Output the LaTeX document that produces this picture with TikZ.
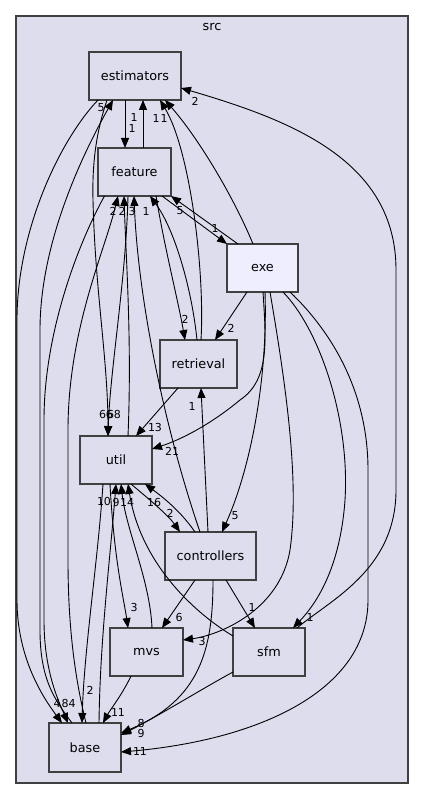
\documentclass[tikz,border=0pt]{standalone}
\usepackage{fontspec}
\setmainfont{DejaVu Sans}
\usetikzlibrary{arrows.meta}
\definecolor{clfill}{HTML}{DDDDEE}
\definecolor{exefill}{HTML}{EEEEFF}
\definecolor{bord}{HTML}{404040}
\tikzset{
  dirbox/.style={draw=bord, fill=clfill, line width=1.3pt, minimum width=#1, minimum height=48pt, inner sep=0pt, outer sep=0pt, font=\fontsize{12.8}{14}\selectfont},
  dep/.style={draw=black, line width=0.9pt, -{Triangle[length=10pt,width=8pt]}},
  lbl/.style={font=\fontsize{11}{12}\selectfont, inner sep=0pt}
}
\begin{document}
\begin{tikzpicture}[x=1pt,y=-1pt]
\useasboundingbox (0,0) rectangle (424,799);
\node[draw=bord, fill=clfill, line width=1.3pt, minimum width=392pt, minimum height=767pt, inner sep=0pt, outer sep=0pt] (src) at (212,399.5) {};
\node[font=\fontsize{12.8}{14}\selectfont, inner sep=0pt] (srclabel) at (212,27) {src};

\node[dirbox=92pt] (estimators) at (135,76) {estimators};
\node[dirbox=73pt] (feature) at (134.5,172) {feature};
\node[dirbox=71pt, fill=exefill] (exe) at (262.5,268) {exe};
\node[dirbox=77pt] (retrieval) at (198.5,364) {retrieval};
\node[dirbox=72pt] (util) at (116,460) {util};
\node[dirbox=91pt] (controllers) at (210.5,556) {controllers};
\node[dirbox=73pt] (mvs) at (146.5,652) {mvs};
\node[dirbox=72pt] (sfm) at (269,652) {sfm};
\node[dirbox=72pt, minimum height=49pt] (base) at (85,747.5) {base};

% estimators <-> feature
\draw[dep] ([xshift=-10pt]estimators.south) -- ([xshift=-9.5pt]feature.north);
\draw[dep] ([xshift=8.5pt]feature.north) -- ([xshift=8pt]estimators.south);
% estimators -> base
\draw[dep] ([xshift=-37pt]estimators.south) .. controls (60,140) and (17,230) .. (17,320) -- (17,600) .. controls (17,660) and (45,700) .. ([xshift=-23pt]base.north);
% base -> estimators
\draw[dep] ([xshift=-13pt]base.north) .. controls (55,700) and (40,680) .. (40,630) -- (40,330) .. controls (40,240) and (85,150) .. ([xshift=-22pt]estimators.south);
% estimators -> util
\draw[dep] ([xshift=-28pt]estimators.south) .. controls (97,130) and (92,160) .. (93,200) .. controls (95,290) and (108,360) .. ([xshift=-8pt]util.north);
% feature -> util
\draw[dep] ([xshift=-6.5pt]feature.south) .. controls (126,280) and (110,370) .. ([xshift=-8pt]util.north);
% util -> feature
\draw[dep] ([xshift=12pt]util.north) .. controls (132,340) and (126,260) .. ([xshift=-10.5pt]feature.south);
% base -> feature
\draw[dep] ([xshift=1pt]base.north) .. controls (78,690) and (68,640) .. (68,560) -- (68,430) .. controls (68,330) and (105,250) .. ([xshift=-16.5pt]feature.south);
% feature -> base
\draw[dep] ([xshift=-30pt]feature.south) .. controls (80,240) and (44,330) .. (44,420) -- (44,620) .. controls (44,670) and (58,700) .. ([xshift=-17pt]base.north);
% util -> base
\draw[dep] ([xshift=-13pt]util.south) .. controls (98,560) and (84,650) .. ([xshift=-3pt]base.north);
% base -> util
\draw[dep] ([xshift=14pt]base.north) .. controls (100,640) and (110,560) .. (util.south);
% mvs -> util
\draw[dep] ([xshift=5.5pt]mvs.north) .. controls (150,580) and (126,530) .. ([xshift=5pt]util.south);
% sfm -> util
\draw[dep] ([yshift=16pt]sfm.west) .. controls (190,610) and (140,560) .. ([xshift=12pt]util.south);
% controllers <-> util
\draw[dep] ([xshift=-15.5pt]controllers.north) .. controls (180,510) and (160,495) .. ([xshift=29pt]util.south);
\draw[dep] ([xshift=15pt]util.south) .. controls (150,500) and (168,515) .. ([xshift=-30.5pt]controllers.north);
% util -> mvs
\draw[dep] ([xshift=-6pt]util.south) .. controls (114,560) and (124,600) .. ([xshift=-18.5pt]mvs.north);
% mvs -> base
\draw[dep] ([xshift=-15.5pt]mvs.south) .. controls (122,695) and (110,710) .. ([xshift=18pt]base.north);
% controllers -> mvs, sfm, base
\draw[dep] ([xshift=-15.5pt]controllers.south) -- ([xshift=15.5pt]mvs.north);
\draw[dep] ([xshift=15.5pt]controllers.south) -- ([xshift=-14pt]sfm.north);
\draw[dep] ([xshift=2.5pt]controllers.south) .. controls (213,650) and (200,700) .. ([yshift=14.5pt]base.east);
% sfm -> base
\draw[dep] ([yshift=-20pt]sfm.west) .. controls (200,690) and (160,715) .. ([yshift=12.5pt]base.east);
% exe -> base
\draw[dep] ([xshift=27.5pt]exe.south) .. controls (330,330) and (368,390) .. (368,470) -- (368,600) .. controls (368,690) and (260,740) .. ([yshift=-4.5pt]base.east);
% exe -> sfm
\draw[dep] ([xshift=20.5pt]exe.south) .. controls (320,330) and (350,420) .. (345,500) .. controls (340,570) and (315,605) .. ([xshift=24pt]sfm.north);
% sfm -> estimators
\draw[dep] ([xshift=28pt]sfm.north) .. controls (330,600) and (396,570) .. (396,490) -- (396,270) .. controls (396,160) and (290,120) .. ([yshift=-12pt]estimators.east);
% exe -> mvs
\draw[dep] ([xshift=7.5pt]exe.south) .. controls (285,380) and (300,480) .. (290,550) .. controls (280,610) and (220,635) .. ([yshift=12pt]mvs.east);
% exe -> controllers
\draw[dep] ([xshift=2.5pt]exe.south) .. controls (268,380) and (250,470) .. ([xshift=11.5pt]controllers.north);
% exe -> util
\draw[dep] ([xshift=0.5pt]exe.south) .. controls (266,340) and (270,380) .. (240,400) .. controls (210,425) and (180,440) .. ([yshift=11pt]util.east);
% exe -> retrieval
\draw[dep] ([xshift=-15.5pt]exe.south) -- ([xshift=16.5pt]retrieval.north);
% feature -> retrieval
\draw[dep] ([xshift=21.5pt]feature.south) .. controls (165,250) and (178,300) .. ([xshift=-13.5pt]retrieval.north);
% retrieval -> feature
\draw[dep] ([xshift=-1.5pt]retrieval.north) .. controls (192,290) and (175,230) .. ([xshift=15.5pt]feature.south);
% retrieval -> estimators
\draw[dep] ([xshift=2.5pt]retrieval.north) .. controls (205,270) and (190,150) .. ([xshift=25pt]estimators.south);
% exe -> estimators
\draw[dep] ([xshift=-9.5pt]exe.north) .. controls (235,200) and (200,140) .. ([xshift=30pt]estimators.south);
% exe <-> feature
\draw[dep] ([xshift=-24.5pt]exe.north) -- (feature.south east);
\draw[dep] ([xshift=27.5pt]feature.south) -- (exe.north west);
% retrieval -> util
\draw[dep] ([xshift=-20.5pt]retrieval.south) -- ([xshift=20pt]util.north);
% controllers -> retrieval
\draw[dep] ([xshift=-2.5pt]controllers.north) -- ([xshift=2.5pt]retrieval.south);
% controllers -> feature
\draw[dep] ([xshift=-10.5pt]controllers.north) .. controls (165,430) and (138,300) .. ([xshift=-0.5pt]feature.south);

% labels
\node[lbl] (la1) at (132,128) {1};
\node[lbl] (la2) at (134,117) {1};
\node[lbl] (la3) at (101,108) {5};
\node[lbl] (la4) at (156,118) {1};
\node[lbl] (la5) at (164,118) {1};
\node[lbl] (la6) at (195,101) {2};
\node[lbl] (la7) at (113,211) {2};
\node[lbl] (la8) at (122,211) {2};
\node[lbl] (la9) at (132,211) {3};
\node[lbl] (la10) at (146,211) {1};
\node[lbl] (la11) at (180,211) {5};
\node[lbl] (la12) at (215,228) {1};
\node[lbl] (la13) at (185,319) {2};
\node[lbl] (la14) at (231,328) {2};
\node[lbl] (la15) at (106,414) {66};
\node[lbl] (la16) at (114,414) {68};
\node[lbl] (la17) at (155,427) {13};
\node[lbl] (la18) at (172,451) {21};
\node[lbl] (la19) at (192,406) {1};
\node[lbl] (la20) at (104,501) {10};
\node[lbl] (la21) at (116,502) {9};
\node[lbl] (la22) at (127,502) {14};
\node[lbl] (la23) at (154,502) {16};
\node[lbl] (la24) at (170,513) {2};
\node[lbl] (la25) at (235,516) {5};
\node[lbl] (la26) at (134,607) {3};
\node[lbl] (la27) at (179,617) {6};
\node[lbl] (la28) at (252,607) {1};
\node[lbl] (la29) at (310,617) {1};
\node[lbl] (la30) at (202,641) {3};
\node[lbl] (la31) at (57,703) {4};
\node[lbl] (la32) at (65,703) {8};
\node[lbl] (la33) at (72,703) {4};
\node[lbl] (la34) at (90,690) {2};
\node[lbl] (la35) at (118,712) {11};
\node[lbl] (la36) at (141,723) {8};
\node[lbl] (la37) at (141,733) {9};
\node[lbl] (la38) at (140,751) {11};
\end{tikzpicture}
\end{document}
